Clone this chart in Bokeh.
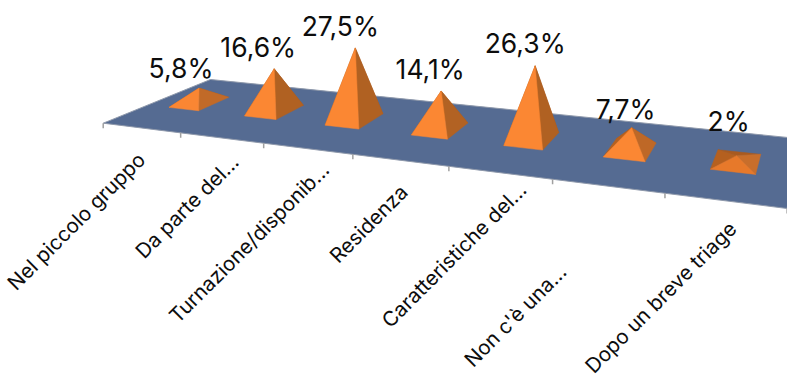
from bokeh.core.properties import value
from bokeh.embed import file_html
from bokeh.models import ColumnDataSource, Range1d
from bokeh.plotting import figure
from bokeh.resources import INLINE
import numpy as np

categories = ["Nel piccolo gruppo", "Da parte del...", "Turnazione/disponib...", "Residenza",
              "Caratteristiche del...", "Non c'è una...", "Dopo un breve triage"]
percentages = [5.8, 16.6, 27.5, 14.1, 26.3, 7.7, 2.0]
value_labels = ["5,8%", "16,6%", "27,5%", "14,1%", "26,3%", "7,7%", "2%"]

WIDTH, HEIGHT = 787, 378
FONT = "Inter"
FLOOR = "#556b92"

# Perspective of the chart floor: category axis u runs 0..n, depth v runs 0..1.
n = len(categories)
corners = [((0, 0), (102.7, 122.7)), ((n, 0), (786.6, 208.0)),
           ((n, 1), (797.3, 138.0)), ((0, 1), (210.0, 79.0))]
rows, rhs = [], []
for (u, v), (sx, sy) in corners:
    rows.append([u, v, 1, 0, 0, 0, -u * sx, -v * sx]); rhs.append(sx)
    rows.append([0, 0, 0, u, v, 1, -u * sy, -v * sy]); rhs.append(sy)
H = np.append(np.linalg.solve(np.array(rows, float), np.array(rhs, float)), 1.0).reshape(3, 3)
W_REF = H[2] @ np.array([3.5, 0.55, 1.0])


def project(u, v, height=0.0):
    """Floor position plus a height in percent, as screen coordinates.

    Verticals fan out very slightly around x = 300.
    """
    x, y, w = H @ np.array([u, v, 1.0])
    rise = 2.68 * height * W_REF / w
    return x / w + (x / w - 300) * rise / 5000, y / w - rise


def mix(low, high, t):
    """Blend two hex colours; t is clipped to 0..1."""
    t = min(max(t, 0.0), 1.0)
    a = [int(low[k:k + 2], 16) for k in (1, 3, 5)]
    b = [int(high[k:k + 2], 16) for k in (1, 3, 5)]
    return "#" + "".join(f"{round(c + (d - c) * t):02x}" for c, d in zip(a, b))


p = figure(width=WIDTH, height=HEIGHT, output_backend="svg", toolbar_location=None,
           x_range=Range1d(0, WIDTH), y_range=Range1d(HEIGHT, 0), min_border=0)
p.axis.visible = False
p.grid.visible = False
p.outline_line_color = None
p.background_fill_color = "white"
p.border_fill_color = "white"

# Floor with its thin lit front edge, and the category ticks below it.
floor = [project(*uv) for uv, _ in corners]
p.patch([q[0] for q in floor], [q[1] for q in floor], fill_color=FLOOR, line_color="#8f99ab", line_width=1)
ticks = [project(i, 0) for i in range(n + 1)]
p.segment([t[0] for t in ticks], [t[1] for t in ticks], [t[0] for t in ticks], [t[1] + 5 for t in ticks],
          line_color="#a0a0a0", line_width=1.5)

# One four-sided pyramid per category, far faces first; flat pyramids catch the light differently.
faces = {"xs": [], "ys": [], "color": []}
apexes = []
for i, pct in enumerate(percentages):
    u0, u1, v0, v1 = i + 0.29, i + 0.69, 0.38, 0.68
    apex = project((u0 + u1) / 2, (v0 + v1) / 2, pct)
    apexes.append(apex)
    sides = {"back": ((u1, v1), (u0, v1)), "left": ((u0, v1), (u0, v0)),
             "right": ((u1, v0), (u1, v1)), "front": ((u0, v0), (u1, v0))}
    shades = {"back": "#a85a20", "left": "#b5601f",
              "right": mix("#cc702c", "#b06122", pct / 15),
              "front": mix("#dd7226", "#fb8733", pct / 6)}
    for name in ("back", "left", "right", "front"):
        a, b = sides[name]
        qa, qb = project(*a), project(*b)
        faces["xs"].append([qa[0], qb[0], apex[0]])
        faces["ys"].append([qa[1], qb[1], apex[1]])
        faces["color"].append(shades[name])
p.patches("xs", "ys", source=ColumnDataSource(faces), fill_color="color", line_color="color", line_width=0.5)

# Value labels float up and to the left of each apex.
label_nudge = [(-18, -20), (-16, -22), (-15, -22), (-11, -22), (-10, -23), (-6, -19), (-8, -35)]
p.text([a[0] + d[0] for a, d in zip(apexes, label_nudge)], [a[1] + d[1] for a, d in zip(apexes, label_nudge)],
       text=value_labels, text_font=value(FONT), text_font_size="26.5px", text_color="#0d0d0d",
       text_align="center", text_baseline="middle")

# Category labels end below their slot, rising at 45 degrees and staggered to fit.
anchors = [project(i + 0.5, 0) for i in range(n)]
tail_nudge = [(0, 28), (13.5, 20.4), (18, 17.4), (4, 28), (23, 13.4), (-45, 82), (8, 24.4)]
p.text([a[0] + d[0] for a, d in zip(anchors, tail_nudge)], [a[1] + d[1] for a, d in zip(anchors, tail_nudge)],
       text=categories, text_font=value(FONT),
       text_font_size="20.5px", text_color="#0d0d0d", text_align="right", text_baseline="middle",
       angle=np.pi / 4)

open("out.html", "w").write(file_html(p, INLINE))
